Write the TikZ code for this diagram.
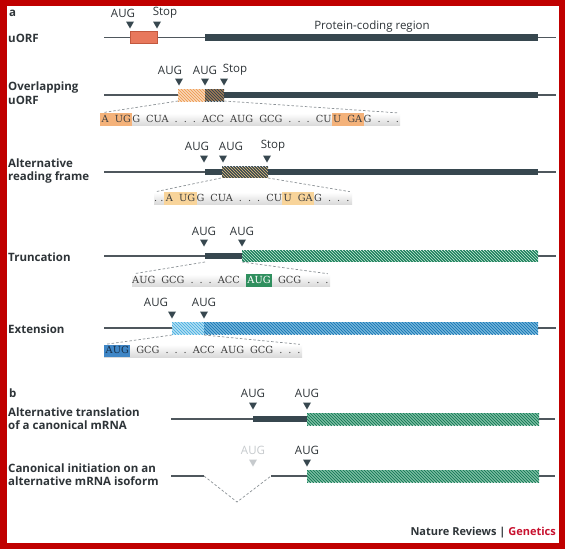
\documentclass[tikz,border=0pt]{standalone}
\usepackage{fontspec}
\setmainfont{Open Sans}
\newfontfamily\seqfont{DejaVu Serif}
\usetikzlibrary{positioning}

\definecolor{framered}{HTML}{C00000}
\definecolor{ink}{HTML}{2E3438}
\definecolor{slate}{HTML}{37474F}
\definecolor{wire}{HTML}{4F575D}
\definecolor{uorf}{HTML}{E8785C}
\definecolor{uorfdark}{HTML}{C2583E}
\definecolor{orng}{HTML}{EFA05A}
\definecolor{gold}{HTML}{E9C27A}
\definecolor{grn}{HTML}{1B805B}
\definecolor{grnl}{HTML}{C4E8D7}
\definecolor{blu}{HTML}{1E7DB8}
\definecolor{blul}{HTML}{B5DDF2}
\definecolor{bluv}{HTML}{52B4E2}
\definecolor{hlorng}{HTML}{F4B27A}
\definecolor{hlgold}{HTML}{F8D49A}
\definecolor{hlgrn}{HTML}{2F8F5E}
\definecolor{hlblu}{HTML}{3F86C6}
\definecolor{navy}{HTML}{17304A}
\definecolor{dashgray}{HTML}{8C9297}
\definecolor{ghost}{HTML}{C6CACD}
\definecolor{natred}{HTML}{C8102E}

\newcommand\seqsetup{\seqfont\fontsize{9.8}{11}\selectfont\frenchspacing\spaceskip=6pt\relax}
\newcommand\seqstrut{\rule[-3.5pt]{0pt}{12.5pt}}
\newcommand\hlcod[2]{{\setlength{\fboxsep}{0pt}\colorbox{#1}{\seqstrut\hspace{1.5pt}#2\hspace{1.5pt}}}}
% x1, x2, y, half height, fill, stripe
\newcommand\hatchseg[6]{%
  \fill[#5] (#1,#3-#4) rectangle (#2,#3+#4);
  \begin{scope}
    \clip (#1,#3-#4) rectangle (#2,#3+#4);
    \foreach \s in {-16,-13,...,340}
      \draw[#6,line width=1.3pt] (#1+\s,#3-#4-1) -- ++(#4*2+2,#4*2+2);
  \end{scope}}

\begin{document}
\begin{tikzpicture}[x=1pt,y=-1pt,
  rowlabel/.style={anchor=west,align=left,inner sep=0pt,text=ink,
    font=\bfseries\fontsize{11.5}{13.5}\selectfont},
  codon/.style={inner sep=0pt,text=ink,font=\fontsize{11.5}{13}\selectfont},
  thin/.style={draw=wire,line width=1.1pt},
  cds/.style={fill=slate},
  tri/.style={fill=slate},
  connector/.style={draw=dashgray,line width=0.7pt,dash pattern=on 2.5pt off 2pt,shorten >=2.5pt},
  seqbox/.style={anchor=west,inner sep=0pt,minimum height=12.5pt,top color=white,bottom color=black!15},
  seqtext/.style={anchor=west,inner sep=0pt,text=black!75,font=\seqsetup}]

\useasboundingbox (0,0) rectangle (565,549);
\fill[framered] (0,0) rectangle (565,549);
\fill[white] (6.5,6) rectangle (558.5,543);

% panel a
\node[rowlabel] (panelA) at (9,13) {a};
\node[rowlabel] (labUorf) at (8,38) {uORF};
\node[rowlabel] (labOvl) at (8,93) {Overlapping\\uORF};
\node[rowlabel] (labAlt) at (8,171) {Alternative\\reading frame};
\node[rowlabel] (labTrunc) at (8,257) {Truncation};
\node[rowlabel] (labExt) at (8,329) {Extension};

\foreach \y in {37.5,95,172,256,328}
  \draw[thin] (104,\y) -- (556,\y);

% uORF
\fill[cds] (205,34.25) rectangle (538,40.75);
\draw[fill=uorf,draw=uorfdark,line width=0.6pt] (130,31.5) rectangle (157,43.5);
\node[codon] (cdsname) at (372,27) {Protein-coding region};
\node[codon] (aug1) at (123,13) {AUG};
\node[codon] (stop1) at (165,13) {Stop};

% overlapping uORF
\fill[cds] (224,91.75) rectangle (538,98.25);
\hatchseg{178}{205}{95}{6}{white}{orng}
\hatchseg{205}{224}{95}{6}{orng}{slate}
\node[codon] (aug2a) at (170,70) {AUG};
\node[codon] (aug2b) at (205,70) {AUG};
\node[codon] (stop2) at (235,70) {Stop};
\coordinate (ovlL) at (178,101);
\coordinate (ovlR) at (224,101);
\node[seqbox,minimum width=300pt] (boxOvl) at (100,119.5) {};
\node[seqtext] (seqOvl) at (boxOvl.west)
  {\seqstrut\hlcod{hlorng}{A UG}G CUA . . . ACC AUG GCG . . . CU\hlcod{hlorng}{U GA}G . . .};
\draw[connector] (ovlL) -- (boxOvl.north west);
\draw[connector] (ovlR) -- (boxOvl.north east);

% alternative reading frame
\fill[cds] (205,168.75) rectangle (538,175.25);
\hatchseg{222}{268}{172}{5.5}{gold}{slate}
\node[codon] (aug3a) at (197,146) {AUG};
\node[codon] (aug3b) at (231,146) {AUG};
\node[codon] (stop3) at (273,146) {Stop};
\coordinate (altL) at (221,178);
\coordinate (altR) at (268,178);
\node[seqbox,minimum width=198pt] (boxAlt) at (154,198.5) {};
\node[seqtext] (seqAlt) at (boxAlt.west)
  {\seqstrut.\hspace{3pt}.\hspace{1pt}\hlcod{hlgold}{A UG}G CUA . . . CU\hlcod{hlgold}{U GA}G . . .};
\draw[connector] (altL) -- (boxAlt.north west);
\draw[connector] (altR) -- (boxAlt.north east);

% truncation
\fill[cds] (205,252.75) rectangle (242,259.25);
\hatchseg{242}{538}{256}{5.5}{grnl}{grn}
\node[codon] (aug4a) at (204,231) {AUG};
\node[codon] (aug4b) at (242,231) {AUG};
\coordinate (truncL) at (205,262);
\coordinate (truncR) at (242,262);
\node[seqbox,minimum width=198pt] (boxTrunc) at (132,280.5) {};
\node[seqtext] (seqTrunc) at (boxTrunc.west)
  {\seqstrut AUG GCG . . . ACC \hlcod{hlgrn}{\textcolor{white}{AUG}} GCG . . .};
\draw[connector] (truncL) -- (boxTrunc.north west);
\draw[connector] (truncR) -- (boxTrunc.north east);

% extension
\hatchseg{172}{204}{328}{6}{white}{bluv}
\hatchseg{204}{538}{328}{6}{blul}{blu}
\node[codon] (aug5a) at (156,302) {AUG};
\node[codon] (aug5b) at (204,302) {AUG};
\coordinate (extL) at (172,335);
\coordinate (extR) at (204,335);
\node[seqbox,minimum width=198pt] (boxExt) at (104,351) {};
\node[seqtext] (seqExt) at (boxExt.west)
  {\seqstrut\hlcod{hlblu}{\textcolor{navy}{AUG}} GCG . . . ACC AUG GCG . . .};
\draw[connector] (extL) -- (boxExt.north west);
\draw[connector] (extR) -- (boxExt.north east);

% panel b
\node[rowlabel] (panelB) at (9,393) {b};
\node[rowlabel] (labCanon) at (8,418.5) {Alternative translation\\of a canonical mRNA};
\node[rowlabel] (labIso) at (8,474.5) {Canonical initiation on an\\alternative mRNA isoform};

\draw[thin] (171,419) -- (555,419);
\fill[cds] (253,415.75) rectangle (307,422.25);
\hatchseg{307}{539}{419}{6}{grnl}{grn}
\node[codon] (aug6a) at (253,393) {AUG};
\node[codon] (aug6b) at (307,393) {AUG};

\coordinate (spliceL) at (204,476);
\coordinate (spliceV) at (237,502);
\coordinate (spliceR) at (271,476);
\draw[thin] (171,476) -- (spliceL);
\draw[thin] (spliceR) -- (555,476);
\draw[connector,shorten >=0pt] (spliceL) -- (spliceV) -- (spliceR);
\hatchseg{307}{539}{476}{6}{grnl}{grn}
\node[codon,text=ghost] (aug7a) at (253,450) {AUG};
\node[codon] (aug7b) at (307,450) {AUG};

\foreach \x/\y in {130/25,157/25,179/82,205/82,224/82,204/159,223/159,267/159,
                   204/243,242/243,172/315,204/315,253/406,307/406,307/463}
  \fill[tri] (\x-4,\y-3.5) -- (\x+4,\y-3.5) -- (\x,\y+3.5) -- cycle;
\fill[ghost] (249,459.5) -- (257,459.5) -- (253,466.5) -- cycle;

\node[anchor=east,inner sep=0pt,text=ink,font=\bfseries\fontsize{11}{12}\selectfont] (credit)
  at (556,533) {Nature Reviews | \textcolor{natred}{Genetics}};
\end{tikzpicture}
\end{document}
